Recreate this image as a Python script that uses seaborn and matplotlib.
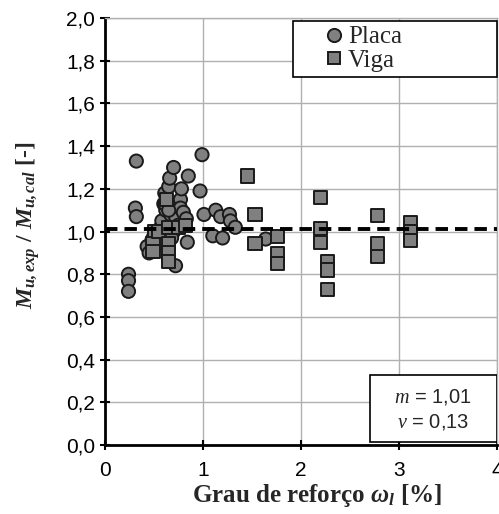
import numpy as np
import pandas as pd
import seaborn as sns
import matplotlib.pyplot as plt
from matplotlib.patches import Rectangle

# Placa (slabs)
placa_x = [0.24, 0.24, 0.24, 0.32, 0.31, 0.32, 0.43, 0.45, 0.48, 0.50,
           0.55, 0.58, 0.60, 0.61, 0.62, 0.65, 0.66, 0.67, 0.70, 0.72,
           0.72, 0.70, 0.68, 0.75, 0.77, 0.77, 0.78, 0.80, 0.83, 0.84,
           0.85, 0.97, 0.99, 1.01, 1.10, 1.13, 1.18, 1.20, 1.27, 1.28,
           1.33, 1.64, 0.61, 0.65]
placa_y = [0.80, 0.77, 0.72, 1.33, 1.11, 1.07, 0.93, 0.90, 0.96, 0.98,
           1.01, 1.05, 1.13, 1.18, 1.10, 1.21, 1.25, 1.08, 1.30, 1.07,
           0.84, 1.00, 0.97, 1.03, 1.15, 1.11, 1.20, 1.09, 1.06, 0.95,
           1.26, 1.19, 1.36, 1.08, 0.98, 1.10, 1.07, 0.97, 1.08, 1.05,
           1.02, 0.965, 1.13, 1.10]

# Viga (beams)
viga_x = [0.51, 0.49, 0.49, 0.55, 0.63, 0.65, 0.65, 0.65, 0.65, 0.75, 0.82,
          1.45, 1.53, 1.53, 1.76, 1.76, 1.76,
          2.20, 2.20, 2.20, 2.27, 2.27, 2.27,
          2.78, 2.78, 2.78, 3.12, 3.12, 3.12]
viga_y = [1.00, 0.945, 0.905, 1.00, 1.15, 1.02, 0.945, 0.90, 0.86, 1.02, 1.03,
          1.26, 1.08, 0.945, 0.976, 0.895, 0.85,
          1.16, 1.015, 0.95, 0.86, 0.82, 0.73,
          1.077, 0.945, 0.885, 1.04, 1.00, 0.96]

media = 1.01
cov = 0.13

df = pd.DataFrame({
    'omega': placa_x + viga_x,
    'ratio': placa_y + viga_y,
    'tipo': ['Placa'] * len(placa_x) + ['Viga'] * len(viga_x),
})

sns.set_style('white')
plt.rcParams['font.family'] = ['Liberation Sans', 'DejaVu Sans']
plt.rcParams['mathtext.fontset'] = 'custom'
plt.rcParams['mathtext.rm'] = 'Liberation Serif'
plt.rcParams['mathtext.it'] = 'Liberation Serif:italic'
plt.rcParams['mathtext.bf'] = 'Liberation Serif:bold:italic'

fig = plt.figure(figsize=(4.99, 5.14), dpi=100)
ax = fig.add_axes([0.2104, 0.134, 0.7856, 0.831])

sns.scatterplot(data=df, x='omega', y='ratio', style='tipo',
                markers={'Placa': 'o', 'Viga': 's'},
                color='#808080', edgecolor='#1a1a1a', linewidth=1.4,
                s=90, legend=False, ax=ax, zorder=3)

ax.axhline(media, color='black', lw=2.8, ls='--', dashes=(3.2, 1.8), zorder=4)

ax.set_xlim(0, 4)
ax.set_ylim(0, 2)
ax.set_xticks([0, 1, 2, 3, 4])
ax.set_yticks(np.arange(0, 2.01, 0.2))
ax.set_yticklabels([f'{v:.1f}'.replace('.', ',') for v in np.arange(0, 2.01, 0.2)])
ax.grid(True, color='#b0b0b0', lw=1.0)
ax.tick_params(axis='both', direction='inout', length=7, width=1.5,
               labelsize=15, colors='black', left=True, bottom=True)
ax.tick_params(axis='x', pad=8)
for s in ['left', 'bottom']:
    ax.spines[s].set_color('black')
    ax.spines[s].set_linewidth(2)
for s in ['top', 'right']:
    ax.spines[s].set_color('#b0b0b0')
    ax.spines[s].set_linewidth(1)

ax.set_xlabel(r'Grau de reforço $\mathbf{\omega_l}$ [%]', fontfamily='Liberation Serif',
              fontweight='bold', fontsize=18, va='center')
ax.xaxis.set_label_coords(0.54, -0.119)
ax.set_ylabel(r'$\mathbf{M_{u,exp}}$ / $\mathbf{M_{u,cal}}$ [-]', fontfamily='Liberation Serif',
              fontweight='bold', fontsize=17, va='center')
ax.yaxis.set_label_coords(-0.195, 0.515)

h1 = plt.Line2D([], [], marker='o', ls='none', markersize=9.5, markerfacecolor='#808080',
                markeredgecolor='#1a1a1a', markeredgewidth=1.4)
h2 = plt.Line2D([], [], marker='s', ls='none', markersize=9, markerfacecolor='#808080',
                markeredgecolor='#1a1a1a', markeredgewidth=1.4)
leg = ax.legend([h1, h2], ['Placa', 'Viga'], loc='upper left',
                bbox_to_anchor=(0.48, 0.855, 0.52, 0.138), mode='expand',
                prop={'family': 'Liberation Serif', 'size': 18}, frameon=True,
                fancybox=False, edgecolor='black', framealpha=1,
                handlelength=2.9, handletextpad=-0.9, borderpad=0.2,
                labelspacing=0.05, borderaxespad=0)
leg.get_frame().set_linewidth(1.2)
leg.set_zorder(5)

ax.add_patch(Rectangle((0.676, 0.007), 0.324, 0.157, transform=ax.transAxes,
                       facecolor='white', edgecolor='black', lw=1.2, zorder=5))
ax.text(0.837, 0.084, f'$m$ = {media:.2f}'.replace('.', ',') + '\n' +
        f'$\\nu$ = {cov:.2f}'.replace('.', ','),
        transform=ax.transAxes, ha='center', va='center', fontsize=14.5,
        linespacing=1.3, zorder=6)

fig.savefig('out.png', dpi=100)
